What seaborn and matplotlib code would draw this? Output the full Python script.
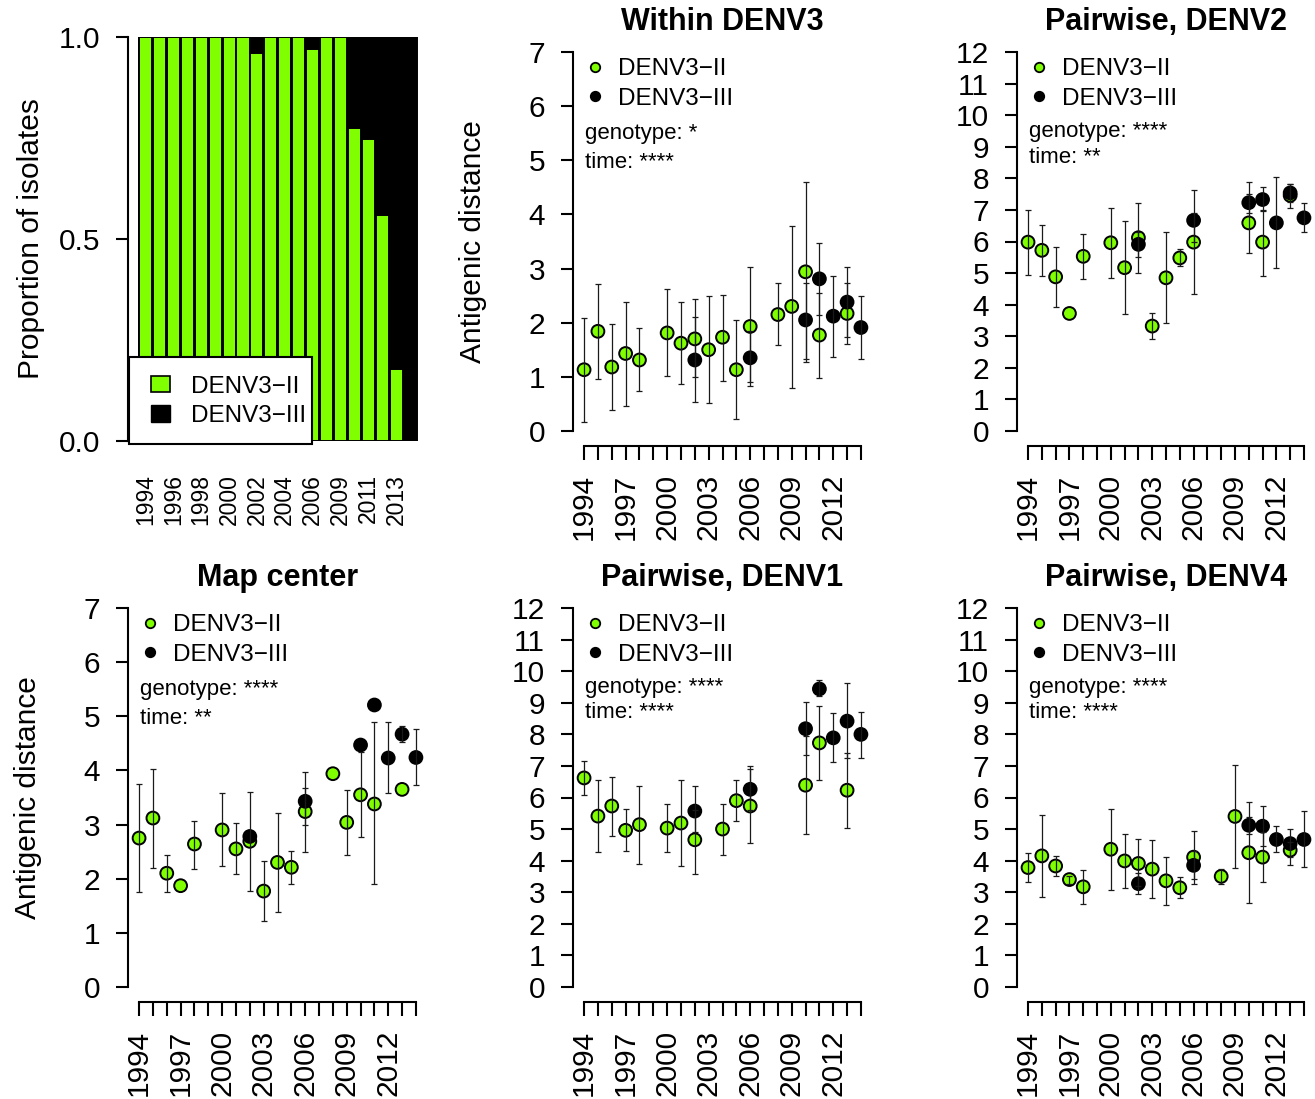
import numpy as np
import pandas as pd
import matplotlib
matplotlib.use("Agg")
import matplotlib.pyplot as plt
from matplotlib.lines import Line2D
from matplotlib.patches import Patch, Rectangle
import seaborn as sns

nan = np.nan
GREEN = "#7FFF00"

# ---- bar panel: proportion of isolates ----
bar_years = [1994, 1995, 1996, 1997, 1998, 1999, 2000, 2001, 2002, 2003,
             2004, 2005, 2006, 2007, 2009, 2010, 2011, 2012, 2013, 2014]
prop_ii = [1, 1, 1, 1, 1, 1, 1, 1, 0.96, 1,
           1, 1, 0.97, 1, 1, 0.775, 0.748, 0.56, 0.178, 0]

# ---- Within DENV3 ----
wd3_ii_years = [1994, 1995, 1996, 1997, 1998, 2000, 2001, 2002, 2003, 2004, 2005, 2006, 2008, 2009, 2010, 2011, 2013]
wd3_ii_vals = [1.13, 1.84, 1.18, 1.43, 1.31, 1.81, 1.62, 1.70, 1.50, 1.73, 1.13, 1.93, 2.15, 2.30, 2.94, 1.77, 2.17]
wd3_ii_lo = [0.16, 0.96, 0.38, 0.46, 0.73, 1.01, 0.86, 0.99, 0.51, 0.93, 0.22, 0.83, 1.58, 0.79, 1.33, 0.97, 1.73]
wd3_ii_hi = [2.09, 2.72, 1.98, 2.38, 1.91, 2.62, 2.38, 2.43, 2.49, 2.51, 2.04, 3.02, 2.73, 3.78, 4.60, 2.54, 2.73]
wd3_iii_years = [2002, 2006, 2010, 2011, 2012, 2013, 2014]
wd3_iii_vals = [1.31, 1.35, 2.05, 2.81, 2.12, 2.38, 1.91]
wd3_iii_lo = [0.53, 0.90, 1.28, 2.15, 1.36, 1.61, 1.33]
wd3_iii_hi = [2.10, 1.85, 2.73, 3.47, 2.86, 3.03, 2.50]

# ---- Pairwise, DENV2 ----
p2_ii_years = [1994, 1995, 1996, 1997, 1998, 2000, 2001, 2002, 2003, 2004, 2005, 2006, 2010, 2011, 2013]
p2_ii_vals = [5.98, 5.72, 4.88, 3.72, 5.53, 5.96, 5.17, 6.12, 3.32, 4.85, 5.48, 5.98, 6.59, 5.98, 7.46]
p2_ii_lo = [4.95, 4.92, 3.92, nan, 4.82, 4.84, 3.69, 5.00, 2.90, 3.41, 5.22, 4.35, 5.64, 4.91, 7.07]
p2_ii_hi = [7.00, 6.51, 5.83, nan, 6.23, 7.05, 6.66, 7.21, 3.74, 6.29, 5.76, 6.90, 7.51, 6.96, 7.83]
p2_iii_years = [2002, 2006, 2010, 2011, 2012, 2013, 2014]
p2_iii_vals = [5.91, 6.67, 7.23, 7.33, 6.59, 7.54, 6.75]
p2_iii_lo = [5.52, 6.00, 6.90, 7.00, 5.17, 7.25, 6.30]
p2_iii_hi = [6.30, 7.62, 7.89, 7.72, 8.04, 7.83, 7.23]

# ---- Map center ----
mc_ii_years = [1994, 1995, 1996, 1997, 1998, 2000, 2001, 2002, 2003, 2004, 2005, 2006, 2008, 2009, 2010, 2011, 2013]
mc_ii_vals = [2.75, 3.12, 2.10, 1.87, 2.64, 2.90, 2.55, 2.69, 1.77, 2.30, 2.21, 3.24, 3.94, 3.04, 3.55, 3.38, 3.65]
mc_ii_lo = [1.75, 2.19, 1.76, nan, 2.18, 2.23, 2.08, 1.78, 1.21, 1.38, 1.90, 2.49, nan, 2.44, 2.77, 1.90, nan]
mc_ii_hi = [3.75, 4.03, 2.44, nan, 3.07, 3.58, 3.02, 3.60, 2.32, 3.22, 2.52, 3.68, nan, 3.64, 4.35, 4.89, nan]
mc_iii_years = [2002, 2006, 2010, 2011, 2012, 2013, 2014]
mc_iii_vals = [2.78, 3.43, 4.47, 5.21, 4.23, 4.67, 4.24]
mc_iii_lo = [nan, 3.00, nan, nan, 3.58, 4.53, 3.73]
mc_iii_hi = [nan, 3.97, nan, nan, 4.89, 4.82, 4.76]

# ---- Pairwise, DENV1 ----
p1_ii_years = [1994, 1995, 1996, 1997, 1998, 2000, 2001, 2002, 2004, 2005, 2006, 2010, 2011, 2013]
p1_ii_vals = [6.62, 5.41, 5.73, 4.96, 5.14, 5.03, 5.19, 4.66, 5.00, 5.90, 5.73, 6.39, 7.73, 6.23]
p1_ii_lo = [6.09, 4.26, 4.78, 4.29, 3.88, 4.26, 3.83, 3.57, 4.19, 5.27, 4.56, 4.83, 6.56, 5.04]
p1_ii_hi = [7.15, 6.56, 6.64, 5.62, 6.37, 5.80, 6.55, 5.60, 5.80, 6.56, 6.91, 7.95, 8.89, 7.42]
p1_iii_years = [2002, 2006, 2010, 2011, 2012, 2013, 2014]
p1_iii_vals = [5.57, 6.26, 8.18, 9.44, 7.89, 8.42, 8.00]
p1_iii_lo = [4.90, 5.60, 7.35, 9.22, 7.11, 7.24, 7.25]
p1_iii_hi = [6.36, 7.00, 9.04, 9.72, 8.68, 9.62, 8.72]

# ---- Pairwise, DENV4 ----
p4_ii_years = [1994, 1995, 1996, 1997, 1998, 2000, 2001, 2002, 2003, 2004, 2005, 2006, 2008, 2009, 2010, 2011, 2013]
p4_ii_vals = [3.78, 4.15, 3.83, 3.40, 3.17, 4.36, 3.99, 3.91, 3.73, 3.36, 3.14, 4.11, 3.50, 5.40, 4.25, 4.11, 4.33]
p4_ii_lo = [3.31, 2.86, 3.50, 3.27, 2.62, 3.06, 3.14, 3.20, 2.80, 2.59, 2.80, 3.25, 3.27, 3.76, 2.65, 3.32, 3.87]
p4_ii_hi = [4.24, 5.44, 4.15, 3.51, 3.69, 5.64, 4.84, 4.69, 4.64, 4.13, 3.47, 4.95, 3.75, 7.03, 5.38, 4.90, 4.60]
p4_iii_years = [2002, 2006, 2010, 2011, 2012, 2013, 2014]
p4_iii_vals = [3.27, 3.85, 5.12, 5.09, 4.67, 4.54, 4.67]
p4_iii_lo = [2.93, 3.43, 4.85, 4.45, 4.26, 4.10, 3.80]
p4_iii_hi = [3.62, 4.30, 5.86, 5.74, 5.09, 5.01, 5.56]

sns.set_style("ticks", rc={"axes.edgecolor": "black", "text.color": "black",
                           "axes.labelcolor": "black", "xtick.color": "black",
                           "ytick.color": "black"})
plt.rcParams["font.family"] = ["Liberation Sans", "DejaVu Sans"]

W, H = 1315, 1099
fig = plt.figure(figsize=(W / 100, H / 100), dpi=100)


def add_ax(l, t, r, b):
    return fig.add_axes([l / W, 1 - b / H, (r - l) / W, (b - t) / H])


TICK_FS = 21.5

# ---------------- bar panel ----------------
ax = add_ax(128, 37, 428, 441)
bar_df = pd.DataFrame({"Year": [str(y) for y in bar_years], "II": prop_ii})
bar_df["total"] = 1.0
sns.barplot(data=bar_df, x="Year", y="total", color="black", width=0.94,
            edgecolor="black", linewidth=1.4, saturation=1, ax=ax)
sns.barplot(data=bar_df, x="Year", y="II", color=GREEN, width=0.94,
            edgecolor="black", linewidth=1.4, saturation=1, ax=ax)
ax.set_xlim(-1.26, 20.29)
ax.set_ylim(0, 1)
ax.set_yticks([0, 0.5, 1.0])
ax.set_yticklabels(["0.0", "0.5", "1.0"])
ax.set_xticks(range(len(bar_years)))
ax.set_xticklabels([str(y) if i % 2 == 0 else "" for i, y in enumerate(bar_years)],
                   rotation=90, fontsize=16.5)
ax.tick_params(axis="x", length=0, pad=24)
ax.tick_params(axis="y", length=9, width=1.5, pad=11, labelsize=TICK_FS)
for s in ["top", "right", "bottom"]:
    ax.spines[s].set_visible(False)
ax.spines["left"].set_linewidth(1.5)
ax.set_xlabel("")
ax.set_ylabel("Proportion of isolates", fontsize=TICK_FS)
ax.yaxis.set_label_coords(-0.277, 0.5)

# legend box (R style: wide left margin, tight right margin)
ax.add_patch(Rectangle((0.003, -0.0074), 0.61, 0.215, transform=ax.transAxes,
                       facecolor="white", edgecolor="black", linewidth=1.5,
                       clip_on=False, zorder=4))
leg = ax.legend(handles=[Patch(facecolor=GREEN, edgecolor="black", linewidth=1.2, label="DENV3\u2212II"),
                         Patch(facecolor="black", edgecolor="black", label="DENV3\u2212III")],
                loc="center left", bbox_to_anchor=(0.077, 0.098), borderaxespad=0,
                borderpad=0, fontsize=17.5, frameon=False,
                handlelength=0.78, handleheight=0.65, handletextpad=0.86,
                labelspacing=0.3)
leg.set_zorder(5)

# ---------------- scatter panels ----------------
panels = [
    dict(box=(573, 37, 872, 446), title="Within DENV3", ymax=7, ylabel=True,
         ii=(wd3_ii_years, wd3_ii_vals, wd3_ii_lo, wd3_ii_hi),
         iii=(wd3_iii_years, wd3_iii_vals, wd3_iii_lo, wd3_iii_hi),
         stats=("genotype: *", "time: ****"), ty=(0.765, 0.694)),
    dict(box=(1017, 37, 1315, 446), title="Pairwise, DENV2", ymax=12, ylabel=False,
         ii=(p2_ii_years, p2_ii_vals, p2_ii_lo, p2_ii_hi),
         iii=(p2_iii_years, p2_iii_vals, p2_iii_lo, p2_iii_hi),
         stats=("genotype: ****", "time: **"), ty=(0.768, 0.706)),
    dict(box=(128, 593, 427, 1002), title="Map center", ymax=7, ylabel=True,
         ii=(mc_ii_years, mc_ii_vals, mc_ii_lo, mc_ii_hi),
         iii=(mc_iii_years, mc_iii_vals, mc_iii_lo, mc_iii_hi),
         stats=("genotype: ****", "time: **"), ty=(0.763, 0.692)),
    dict(box=(573, 593, 872, 1002), title="Pairwise, DENV1", ymax=12, ylabel=False,
         ii=(p1_ii_years, p1_ii_vals, p1_ii_lo, p1_ii_hi),
         iii=(p1_iii_years, p1_iii_vals, p1_iii_lo, p1_iii_hi),
         stats=("genotype: ****", "time: ****"), ty=(0.768, 0.709)),
    dict(box=(1017, 593, 1315, 1002), title="Pairwise, DENV4", ymax=12, ylabel=False,
         ii=(p4_ii_years, p4_ii_vals, p4_ii_lo, p4_ii_hi),
         iii=(p4_iii_years, p4_iii_vals, p4_iii_lo, p4_iii_hi),
         stats=("genotype: ****", "time: ****"), ty=(0.768, 0.709)),
]

for p in panels:
    ax = add_ax(*p["box"])
    frames = []
    for key, name in [("ii", "DENV3\u2212II"), ("iii", "DENV3\u2212III")]:
        yrs, vals, lo, hi = p[key]
        frames.append(pd.DataFrame({"Year": yrs, "Distance": vals, "lo": lo, "hi": hi,
                                    "Genotype": name}))
    df = pd.concat(frames, ignore_index=True)

    sns.scatterplot(data=df, x="Year", y="Distance", hue="Genotype",
                    palette={"DENV3\u2212II": GREEN, "DENV3\u2212III": "black"},
                    s=85, edgecolor="black", linewidth=1.4, legend=False,
                    zorder=2, ax=ax)
    err = df.dropna(subset=["lo", "hi"])
    ax.errorbar(err["Year"], err["Distance"],
                yerr=[err["Distance"] - err["lo"], err["hi"] - err["Distance"]],
                fmt="none", ecolor="#1a1a1a", elinewidth=0.9, capsize=2.0,
                capthick=0.9, zorder=3)

    ymax = p["ymax"]
    ax.set_xlim(1993.2, 2014.8)
    ax.set_ylim(-0.04 * ymax, ymax * 1.04)
    ax.set_yticks(range(0, ymax + 1))
    ax.set_xticks(range(1994, 2015))
    ax.set_xticklabels([str(y) if (y - 1994) % 3 == 0 else "" for y in range(1994, 2015)],
                       rotation=90)
    ax.tick_params(axis="y", length=9, width=1.5, pad=11, labelsize=TICK_FS)
    ax.tick_params(axis="x", length=10, width=1.5, pad=10, labelsize=TICK_FS)
    for s in ["top", "right"]:
        ax.spines[s].set_visible(False)
    ax.spines["left"].set_bounds(0, ymax)
    ax.spines["bottom"].set_bounds(1994, 2014)
    ax.spines["left"].set_linewidth(1.5)
    ax.spines["bottom"].set_linewidth(1.5)
    ax.set_xlabel("")
    if p["ylabel"]:
        ax.set_ylabel("Antigenic distance", fontsize=TICK_FS)
        ax.yaxis.set_label_coords(-0.288, 0.5)
    else:
        ax.set_ylabel("")
    ax.set_title(p["title"], fontsize=22, fontweight="bold", pad=1.5)

    handles = [Line2D([], [], ls="", marker="o", markersize=6.8, markerfacecolor=GREEN,
                      markeredgecolor="black", markeredgewidth=1.3, label="DENV3\u2212II"),
               Line2D([], [], ls="", marker="o", markersize=6.8, markerfacecolor="black",
                      markeredgecolor="black", markeredgewidth=1.3, label="DENV3\u2212III")]
    ax.legend(handles=handles, loc="upper left", bbox_to_anchor=(0.04, 0.948),
              borderaxespad=0, borderpad=0, frameon=False, fontsize=17.5,
              handlelength=0.8, handletextpad=0.55, labelspacing=0.3)
    ax.text(0.04, p["ty"][0], p["stats"][0], transform=ax.transAxes, fontsize=16, va="center")
    ax.text(0.04, p["ty"][1], p["stats"][1], transform=ax.transAxes, fontsize=16, va="center")

fig.savefig("out.png", dpi=100)
